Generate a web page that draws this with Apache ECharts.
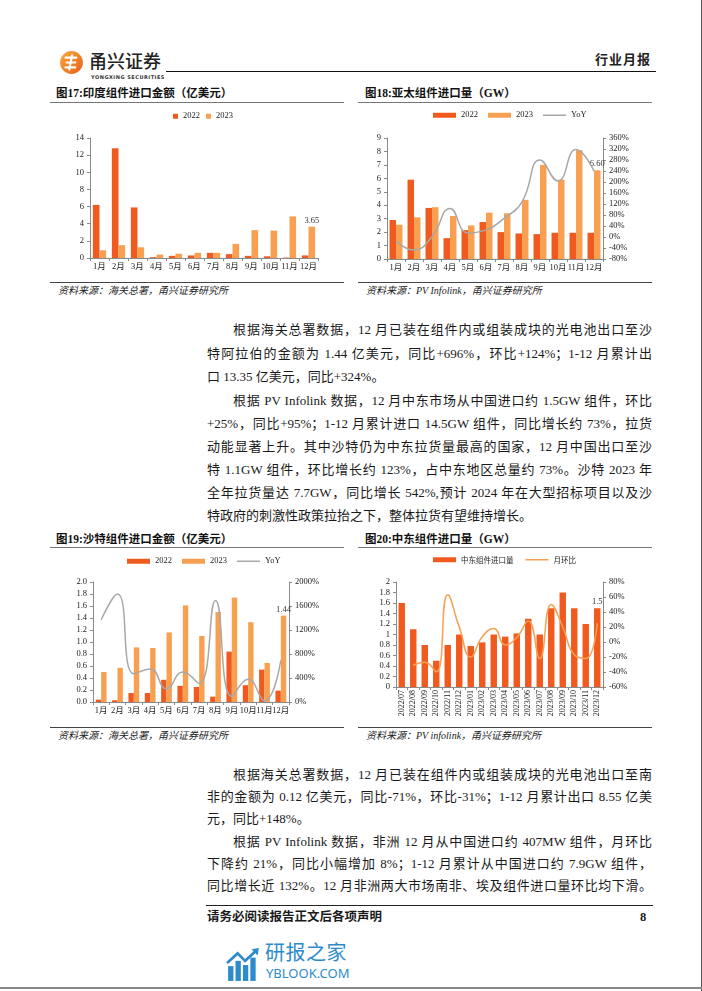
<!DOCTYPE html>
<html><head><meta charset="utf-8">
<script src="https://cdn.jsdelivr.net/npm/echarts@6/dist/echarts.min.js"></script>
<style>
html,body{margin:0;padding:0;background:#fff;}
body{width:702px;height:991px;position:relative;overflow:hidden;font-family:"Liberation Serif","Noto Sans CJK SC",serif;color:#1a1a1a;}
.ttl{position:absolute;font-size:11.5px;font-weight:700;white-space:nowrap;line-height:14px;color:#111;}
.tl{position:absolute;height:0;border-top:1px solid #777;width:294px;}
.sl{position:absolute;height:0;border-top:1.5px solid #444;width:294px;}
.src{position:absolute;font-size:10px;font-style:italic;white-space:nowrap;line-height:12px;color:#222;}
.ch{position:absolute;width:310px;height:175px;}
.ln{position:absolute;left:207px;width:445px;height:22px;line-height:22px;font-size:13px;text-align:justify;text-align-last:justify;}
.last{text-align-last:left;}
.ind{text-indent:26px;}
</style></head>
<body>
<!-- header -->
<svg style="position:absolute;left:59px;top:50px" width="25" height="25" viewBox="0 0 23 23">
<defs><linearGradient id="g" x1="0" y1="0" x2="1" y2="1"><stop offset="0" stop-color="#F9A93A"/><stop offset="1" stop-color="#E8601C"/></linearGradient></defs>
<circle cx="11.5" cy="11.5" r="10.5" fill="url(#g)"/>
<path d="M6 7 H16 M7 11.5 H15 M6 16 H15 M12 5 L9.5 18" stroke="#fff" stroke-width="2" fill="none" stroke-linecap="round"/>
</svg>
<div style="position:absolute;left:89px;top:50px;font-family:'Noto Sans CJK SC';font-size:18px;line-height:21px;color:#222;font-weight:500;">甬兴证券</div>
<div style="position:absolute;left:91px;top:74px;font-family:'DejaVu Sans';font-size:5px;line-height:6px;color:#333;font-weight:700;letter-spacing:0.5px;">YONGXING SECURITIES</div>
<div style="position:absolute;left:166px;top:71px;width:490px;border-top:1.5px solid #111;"></div>
<div style="position:absolute;left:595px;top:51px;font-family:'Noto Sans CJK SC';font-size:13px;line-height:16px;font-weight:700;letter-spacing:1px;color:#222;">行业月报</div>
<div style="position:absolute;left:701px;top:0;width:1px;height:991px;background:#555;"></div>

<!-- fig 17 / 18 -->
<div class="ttl" style="left:56px;top:86px;">图17:印度组件进口金额（亿美元）</div>
<div class="tl" style="left:50px;top:102px;"></div>
<div class="ttl" style="left:365px;top:86px;">图18:亚太组件进口量（GW）</div>
<div class="tl" style="left:358px;top:102px;"></div>
<div id="c17" class="ch" style="left:40px;top:105px;"></div>
<div id="c18" class="ch" style="left:355px;top:105px;"></div>
<div class="sl" style="left:50px;top:282px;"></div>
<div class="sl" style="left:358px;top:282px;"></div>
<div class="src" style="left:58px;top:285px;">资料来源：海关总署，甬兴证券研究所</div>
<div class="src" style="left:366px;top:285px;">资料来源：PV Infolink，甬兴证券研究所</div>

<!-- text block 1 -->
<div class="ln ind" style="top:319px;">根据海关总署数据，12 月已装在组件内或组装成块的光电池出口至沙</div>
<div class="ln" style="top:343px;">特阿拉伯的金额为 1.44 亿美元，同比+696%，环比+124%；1-12 月累计出</div>
<div class="ln last" style="top:366px;">口 13.35 亿美元，同比+324%。</div>
<div class="ln ind" style="top:390px;">根据 PV Infolink 数据，12 月中东市场从中国进口约 1.5GW 组件，环比</div>
<div class="ln" style="top:413px;">+25%，同比+95%；1-12 月累计进口 14.5GW 组件，同比增长约 73%，拉货</div>
<div class="ln" style="top:436px;">动能显著上升。其中沙特仍为中东拉货量最高的国家，12 月中国出口至沙</div>
<div class="ln" style="top:459px;">特 1.1GW 组件，环比增长约 123%，占中东地区总量约 73%。沙特 2023 年</div>
<div class="ln" style="top:482px;">全年拉货量达 7.7GW，同比增长 542%,预计 2024 年在大型招标项目以及沙</div>
<div class="ln last" style="top:505px;">特政府的刺激性政策拉抬之下，整体拉货有望维持增长。</div>

<!-- fig 19 / 20 -->
<div class="ttl" style="left:56px;top:532px;">图19:沙特组件进口金额（亿美元）</div>
<div class="tl" style="left:50px;top:547px;"></div>
<div class="ttl" style="left:365px;top:532px;">图20:中东组件进口量（GW）</div>
<div class="tl" style="left:358px;top:547px;"></div>
<div id="c19" class="ch" style="left:40px;top:550px;"></div>
<div id="c20" class="ch" style="left:355px;top:550px;"></div>
<div class="sl" style="left:50px;top:727px;"></div>
<div class="sl" style="left:358px;top:727px;"></div>
<div class="src" style="left:58px;top:730px;">资料来源：海关总署，甬兴证券研究所</div>
<div class="src" style="left:366px;top:730px;">资料来源：PV infolink，甬兴证券研究所</div>

<!-- text block 2 -->
<div class="ln ind" style="top:764px;">根据海关总署数据，12 月已装在组件内或组装成块的光电池出口至南</div>
<div class="ln" style="top:786px;">非的金额为 0.12 亿美元，同比-71%，环比-31%；1-12 月累计出口 8.55 亿美</div>
<div class="ln last" style="top:808px;">元，同比+148%。</div>
<div class="ln ind" style="top:831px;">根据 PV Infolink 数据，非洲 12 月从中国进口约 407MW 组件，月环比</div>
<div class="ln" style="top:853px;">下降约 21%，同比小幅增加 8%；1-12 月累计从中国进口约 7.9GW 组件，</div>
<div class="ln" style="top:875px;">同比增长近 132%。12 月非洲两大市场南非、埃及组件进口量环比均下滑。</div>

<!-- footer -->
<div style="position:absolute;left:206px;top:905px;width:447px;border-top:1px solid #222;"></div>
<div style="position:absolute;left:207px;top:909px;font-size:12.5px;line-height:16px;font-weight:700;">请务必阅读报告正文后各项声明</div>
<div style="position:absolute;left:640px;top:909px;font-size:12.5px;line-height:16px;font-weight:700;">8</div>

<svg style="position:absolute;left:226px;top:946px" width="36" height="36" viewBox="0 0 34 32">
<g fill="#2D8BCB"><rect x="2" y="18" width="5" height="14"/><rect x="9" y="13" width="5" height="19"/><rect x="16" y="17" width="5" height="15"/><rect x="23" y="10" width="5" height="22"/></g>
<path d="M1 15 L11 6 L18 13 L29 3" stroke="#2D8BCB" stroke-width="2.5" fill="none"/>
<path d="M24 2 L31 1 L30 8 Z" fill="#2D8BCB"/>
</svg>
<div style="position:absolute;left:265px;top:940px;font-family:'Noto Sans CJK SC';font-size:20px;line-height:24px;color:#2D8BCB;letter-spacing:0.5px;">研报之家</div>
<div style="position:absolute;left:266px;top:965px;font-family:'Noto Sans','DejaVu Sans';font-size:13px;line-height:16px;color:#2D8BCB;">YBLOOK.COM</div>
<div style="position:absolute;left:0;top:987px;width:702px;height:2px;background:#888;"></div>

<script>
// ---- data ----
const months = ['1月','2月','3月','4月','5月','6月','7月','8月','9月','10月','11月','12月'];
const india2022 = [6.2,12.8,5.9,0.1,0.25,0.3,0.6,0.45,0.25,0.2,0.05,0.3];
const india2023 = [0.9,1.5,1.25,0.4,0.5,0.6,0.6,1.65,3.25,3.2,4.85,3.65];
const apac2022 = [2.9,5.9,3.8,1.55,2.15,2.75,2.0,1.9,1.85,1.95,1.95,1.95];
const apac2023 = [2.55,3.1,3.85,3.2,2.5,3.45,3.4,4.4,7.0,5.9,8.1,6.6];
const apacYoY = [-15,-47,1,104,15,25,68,128,280,204,318,240];
const saudi2022 = [0.04,0.03,0.15,0.15,0.37,0.27,0.25,0.09,0.84,0.28,0.54,0.19];
const saudi2023 = [0.50,0.57,0.91,0.90,1.16,1.61,1.10,1.50,1.74,1.33,0.65,1.44];
const saudiYoY = [1370,1800,470,550,220,500,310,1690,95,380,20,696];
const meMonths = ['2022/07','2022/08','2022/09','2022/10','2022/11','2022/12','2023/01','2023/02','2023/03','2023/04','2023/05','2023/06','2023/07','2023/08','2023/09','2023/10','2023/11','2023/12'];
const meImport = [1.6,1.1,0.8,0.5,0.8,1.0,0.78,0.85,1.0,0.96,1.02,1.3,1.0,1.5,1.8,1.5,1.2,1.5];
const meMoM = [null,-31,-27,-40,63,20,-20,7,18,-4,6,28,-22,50,20,-17,-22,25];

// ---- styles ----
const C22 = '#F05A1E', C23 = '#F7A052', CY = '#A8A8A8';
const FF = '"Liberation Serif","Noto Sans CJK SC",serif';
const AX = '#8a8a8a';
const LINE_ICON = 'path://M0,0 L46,0 L46,3 L0,3 Z';
const lblStyle = {fontSize:8.5, color:'#222', fontFamily:FF};

function catAxis(data, extra){
  return Object.assign({
    type:'category', data:data,
    axisLine:{show:true, lineStyle:{color:AX, width:1}},
    axisTick:{show:true, length:3, lineStyle:{color:AX}},
    axisLabel:Object.assign({interval:0, margin:5}, lblStyle)
  }, extra||{});
}
function valAxis(min,max,interval,fmt,pos){
  return {
    type:'value', min:min, max:max, interval:interval, position:pos||'left',
    splitLine:{show:false},
    axisLine:{show:true, lineStyle:{color:AX, width:1}},
    axisTick:{show:true, length:3, lineStyle:{color:AX}},
    axisLabel:Object.assign({margin:6, formatter:fmt}, lblStyle)
  };
}
function lastLabel(arr, fmt){
  return arr.map((v,i)=> i===arr.length-1 ? {value:v, label:{show:true, position:'top', distance:2, fontSize:8.5, color:'#333', fontFamily:FF, formatter:fmt}} : v);
}
function legend(left, top, w, h, gap){
  return {left:left, top:top, padding:0, itemWidth:w, itemHeight:h, itemGap:gap,
    textStyle:{fontSize:8.5, color:'#222', fontFamily:FF}};
}
const pct = v => v + '%';

// ---- chart 17 ----
echarts.init(document.getElementById('c17')).setOption({
  animation:false,
  legend:Object.assign(legend(133,7,5,5,6), {data:[{name:'2022',icon:'rect'},{name:'2023',icon:'rect'}]}),
  grid:{left:50, right:32, top:33, bottom:22},
  xAxis:catAxis(months),
  yAxis:valAxis(0,14,2,'{value}'),
  series:[
    {name:'2022', type:'bar', data:india2022, barWidth:'35%', barGap:'0%', itemStyle:{color:C22}},
    {name:'2023', type:'bar', data:lastLabel(india2023, p=>p.value.toFixed(2)), barWidth:'35%', barGap:'0%', itemStyle:{color:C23}}
  ]
});

// ---- chart 18 ----
echarts.init(document.getElementById('c18')).setOption({
  animation:false,
  legend:Object.assign(legend(78,6,23,5,10), {data:[{name:'2022',icon:'rect'},{name:'2023',icon:'rect'},{name:'YoY',icon:LINE_ICON}]}),
  grid:{left:32, right:62, top:33, bottom:21},
  xAxis:catAxis(months),
  yAxis:[valAxis(0,9,1,'{value}'), valAxis(-80,360,40,pct,'right')],
  series:[
    {name:'2022', type:'bar', data:apac2022, barWidth:'36%', barGap:'0%', itemStyle:{color:C22}},
    {name:'2023', type:'bar', data:lastLabel(apac2023, p=>p.value.toFixed(2)), barWidth:'36%', barGap:'0%', itemStyle:{color:C23}},
    {name:'YoY', type:'line', yAxisIndex:1, data:apacYoY, smooth:true, symbol:'none', lineStyle:{color:CY, width:1.5}, itemStyle:{color:CY}}
  ]
});

// ---- chart 19 ----
echarts.init(document.getElementById('c19')).setOption({
  animation:false,
  legend:Object.assign(legend(87,7,23,5,10), {data:[{name:'2022',icon:'rect'},{name:'2023',icon:'rect'},{name:'YoY',icon:LINE_ICON}]}),
  grid:{left:53, right:61, top:32, bottom:23},
  xAxis:catAxis(months),
  yAxis:[valAxis(0,2,0.2,v=>v.toFixed(1)), valAxis(0,2000,400,pct,'right')],
  series:[
    {name:'2022', type:'bar', data:saudi2022, barWidth:'33%', barGap:'0%', itemStyle:{color:C22}},
    {name:'2023', type:'bar', data:lastLabel(saudi2023, p=>p.value.toFixed(2)), barWidth:'33%', barGap:'0%', itemStyle:{color:C23}},
    {name:'YoY', type:'line', yAxisIndex:1, data:saudiYoY, smooth:true, symbol:'none', lineStyle:{color:CY, width:1.5}, itemStyle:{color:CY}}
  ]
});

// ---- chart 20 ----
echarts.init(document.getElementById('c20')).setOption({
  animation:false,
  legend:{left:78, top:6, padding:0, itemWidth:23, itemHeight:5, itemGap:12,
    textStyle:{fontSize:7.5, color:'#222', fontFamily:'"Noto Sans CJK SC"'},
    data:[{name:'中东组件进口量',icon:'rect'},{name:'月环比',icon:LINE_ICON}]},
  grid:{left:41, right:62, top:32, bottom:38},
  xAxis:catAxis(meMonths, {axisLabel:Object.assign({interval:0, margin:3, rotate:90}, lblStyle, {fontSize:8})}),
  yAxis:[valAxis(0,2,0.2,'{value}'), valAxis(-60,80,20,pct,'right')],
  series:[
    {name:'中东组件进口量', type:'bar', data:lastLabel(meImport), barWidth:'56%', itemStyle:{color:C22}},
    {name:'月环比', type:'line', yAxisIndex:1, data:meMoM, smooth:true, symbol:'none', lineStyle:{color:C23, width:1.5}, itemStyle:{color:C23}}
  ]
});
</script>
</body></html>
